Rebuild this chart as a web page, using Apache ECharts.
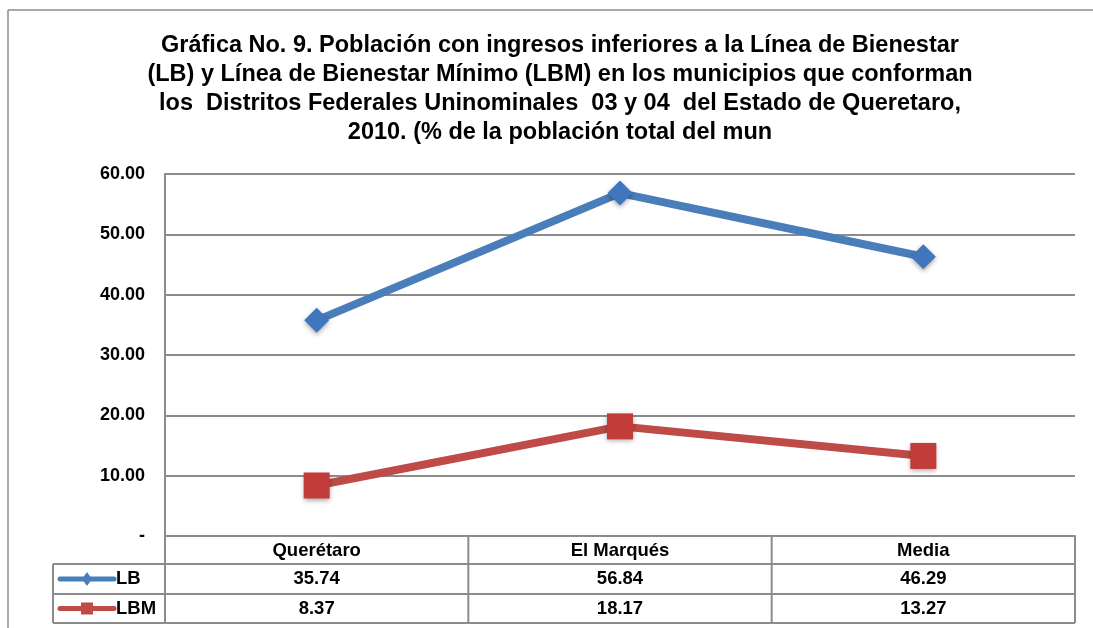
<!DOCTYPE html>
<html>
<head>
<meta charset="utf-8">
<script src="https://cdn.jsdelivr.net/npm/echarts@6/dist/echarts.min.js"></script>
<style>
  html, body { margin: 0; padding: 0; background: #fff; }
  #chart { width: 1093px; height: 628px; }
</style>
</head>
<body>
<div id="chart"></div>
<script>
const titleText = 'Gráfica No. 9. Población con ingresos inferiores a la Línea de Bienestar\n(LB) y Línea de Bienestar Mínimo (LBM) en los municipios que conforman\nlos  Distritos Federales Uninominales  03 y 04  del Estado de Queretaro,\n2010. (% de la población total del mun'
const categories = ['Querétaro', 'El Marqués', 'Media']
const lbValues = [35.74, 56.84, 46.29]
const lbmValues = [8.37, 18.17, 13.27]
const seriesNames = ['LB', 'LBM']

const FONT = '"Liberation Sans", Arial, sans-serif'
const BLUE = '#4a7ebb'
const RED = '#be4b48'
const GRID_GRAY = '#8c8c8c'

const chart = echarts.init(document.getElementById('chart'))

const markerStyle = (color) => ({
  color,
  shadowBlur: 5,
  shadowColor: 'rgba(0,0,0,0.35)',
  shadowOffsetY: 2,
})

chart.setOption({
  animation: false,
  title: {
    text: titleText,
    left: 555,
    top: 26,
    textAlign: 'center',
    textStyle: { fontFamily: FONT, fontSize: 23.5, fontWeight: 'bold', color: '#000', lineHeight: 29 },
  },
  grid: { left: 165, right: 18, top: 174, bottom: 92 },
  xAxis: {
    type: 'category',
    data: categories,
    boundaryGap: true,
    axisLine: { lineStyle: { color: GRID_GRAY, width: 2 } },
    axisTick: { show: false },
    axisLabel: { margin: 5, fontFamily: FONT, fontSize: 18.5, fontWeight: 'bold', color: '#000' },
  },
  yAxis: {
    type: 'value',
    min: 0, max: 60, interval: 10,
    axisLine: { show: true, lineStyle: { color: GRID_GRAY, width: 2 } },
    axisTick: { show: false },
    splitLine: { lineStyle: { color: GRID_GRAY, width: 2 } },
    axisLabel: {
      margin: 20,
      fontFamily: FONT, fontSize: 18, fontWeight: 'bold', color: '#000',
      formatter: v => v === 0 ? '-' : v.toFixed(2),
    },
  },
  series: [
    {
      name: seriesNames[0],
      type: 'line',
      data: lbValues,
      symbol: 'diamond',
      symbolSize: 25,
      lineStyle: { color: BLUE, width: 8 },
      itemStyle: markerStyle('#3f76bd'),
    },
    {
      name: seriesNames[1],
      type: 'line',
      data: lbmValues,
      symbol: 'rect',
      symbolSize: 26,
      lineStyle: { color: RED, width: 8 },
      itemStyle: markerStyle('#c23c39'),
    },
  ],
})

// data table under the plot, built from the arrays above
function buildTable() {
  const rowsY = [536, 564, 594, 623]
  const left = 165, right = 1075, keyLeft = 53
  const lineStyle = { stroke: GRID_GRAY, lineWidth: 2 }
  const els = []
  const hline = (x1, x2, y) => els.push({ type: 'line', shape: { x1, y1: y, x2, y2: y }, style: lineStyle, z: 10 })
  const vline = (x, y1, y2) => els.push({ type: 'line', shape: { x1: x, y1, x2: x, y2 }, style: lineStyle, z: 10 })

  hline(keyLeft, right, rowsY[1])
  hline(keyLeft, right, rowsY[2])
  hline(keyLeft, right, rowsY[3])
  vline(keyLeft, rowsY[1], rowsY[3])
  vline(left, rowsY[0], rowsY[3])
  vline(right, rowsY[0], rowsY[3])
  // band boundaries between categories
  const bandW = (right - left) / categories.length
  for (let i = 1; i < categories.length; i++) vline(left + bandW * i, rowsY[0], rowsY[3])

  const rows = [
    { name: seriesNames[0], values: lbValues, color: BLUE, symbol: 'diamond' },
    { name: seriesNames[1], values: lbmValues, color: RED, symbol: 'rect' },
  ]
  rows.forEach((row, r) => {
    const cy = (rowsY[r + 1] + rowsY[r + 2]) / 2
    els.push({ type: 'line', shape: { x1: 60, y1: cy, x2: 114, y2: cy }, style: { stroke: row.color, lineWidth: 5, lineCap: 'round' }, z: 11 })
    if (row.symbol === 'diamond') {
      els.push({ type: 'polygon', shape: { points: [[87, cy - 7], [92, cy], [87, cy + 7], [82, cy]] }, style: { fill: row.color }, z: 12 })
    } else {
      els.push({ type: 'rect', shape: { x: 81, y: cy - 6, width: 12, height: 12 }, style: { fill: row.color }, z: 12 })
    }
    els.push({ type: 'text', x: 116, y: cy, style: { text: row.name, font: `bold 18.5px ${FONT}`, fill: '#000', verticalAlign: 'middle', align: 'left' }, z: 12 })
    row.values.forEach((v, i) => {
      const x = chart.convertToPixel({ xAxisIndex: 0 }, i)
      els.push({ type: 'text', x, y: cy, style: { text: v.toFixed(2), font: `bold 18.5px ${FONT}`, fill: '#000', verticalAlign: 'middle', align: 'center' }, z: 12 })
    })
  })

  // outer chart frame
  els.push({ type: 'line', shape: { x1: 8, y1: 10, x2: 1093, y2: 10 }, style: { stroke: '#8c8c8c', lineWidth: 1.5 } })
  els.push({ type: 'line', shape: { x1: 8, y1: 10, x2: 8, y2: 628 }, style: { stroke: '#8c8c8c', lineWidth: 1.5 } })

  chart.setOption({ graphic: els })
}
buildTable()
</script>
</body>
</html>
